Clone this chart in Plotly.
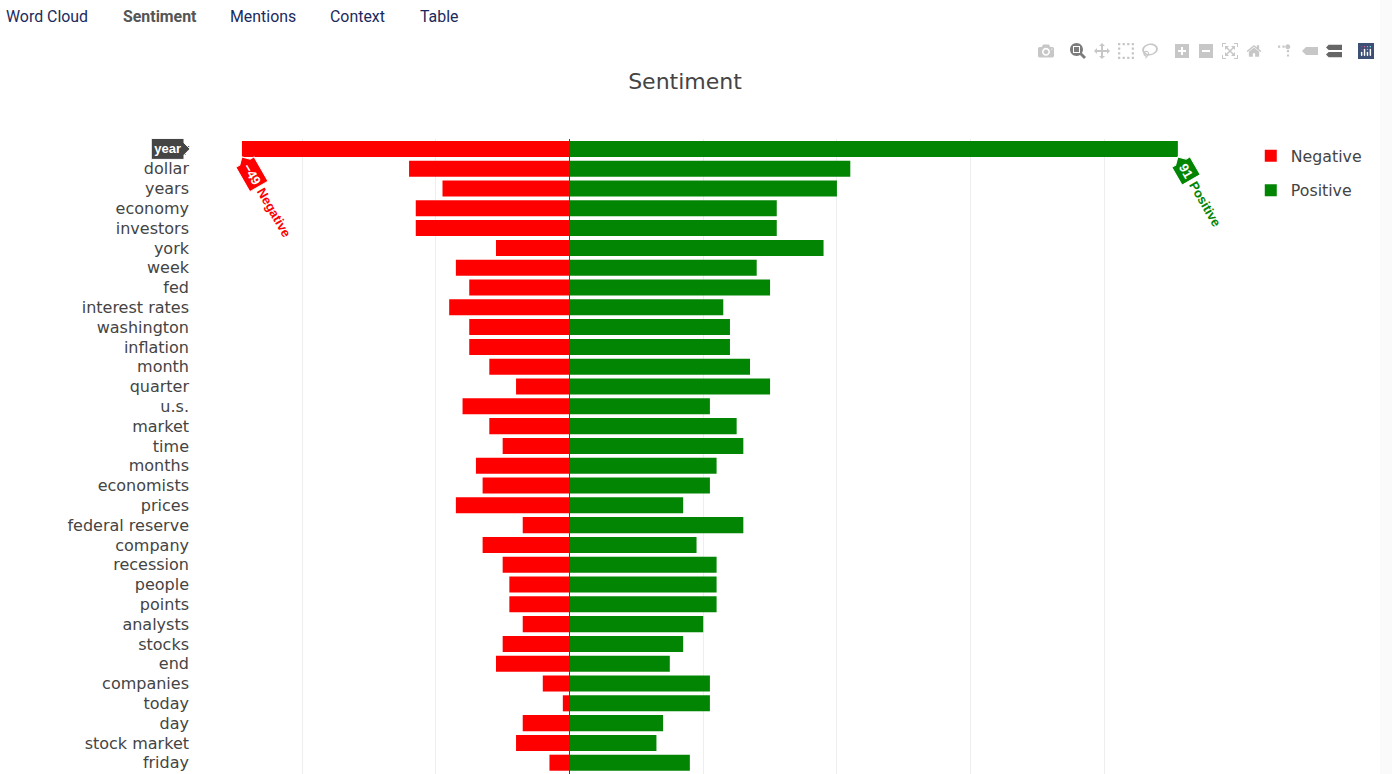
import plotly.graph_objects as go

# terms sorted by total mentions
terms = ["year", "dollar", "years", "economy", "investors", "york", "week", "fed",
         "interest rates", "washington", "inflation", "month", "quarter", "u.s.",
         "market", "time", "months", "economists", "prices", "federal reserve",
         "company", "recession", "people", "points", "analysts", "stocks", "end",
         "companies", "today", "day", "stock market", "friday"]
negative = [-49, -24, -19, -23, -23, -11, -17, -15, -18, -15, -15, -12, -8, -16,
            -12, -10, -14, -13, -17, -7, -13, -10, -9, -9, -7, -10, -11, -4, -1,
            -7, -8, -3]
positive = [91, 42, 40, 31, 31, 38, 28, 30, 23, 24, 24, 27, 30, 21, 25, 26, 22, 21,
            17, 26, 19, 22, 22, 22, 20, 17, 15, 21, 21, 14, 13, 18]

nav_labels = ["Word Cloud", "Sentiment", "Mentions", "Context", "Table"]
nav_left = [4, 121, 228, 328, 418]

W = 1380
H = 774
PLOT_L = 190
PLOT_R = 1225
font_name = "DejaVu Sans"
text_color = "#444"
green = "#028502"

fig = go.Figure()
fig.add_trace(go.Bar(y=terms, x=negative, name="Negative", orientation="h",
                     marker=dict(color="red", line_width=0), legendgroup="neg"))
fig.add_trace(go.Bar(y=terms, x=positive, name="Positive", orientation="h",
                     marker=dict(color=green, line_width=0), legendgroup="pos"))

# tabs above the chart
for label, left in zip(nav_labels, nav_left):
    active = label == "Sentiment"
    fig.add_annotation(text="<b>" + label + "</b>" if active else label,
                       xref="paper", yref="paper", xanchor="left", yanchor="middle",
                       x=(left - PLOT_L) / (PLOT_R - PLOT_L), y=1 + (139 - 16) / 635,
                       showarrow=False, align="left",
                       font=dict(family="Roboto", size=15.9,
                                 color="#555" if active else "#1b2a5e"))

fig.update_layout(
    width=W, height=H,
    margin=dict(l=PLOT_L, r=W - PLOT_R, t=139, b=0, pad=0),
    paper_bgcolor="white", plot_bgcolor="white",
    font=dict(family=font_name, size=16, color=text_color),
    title=dict(text="Sentiment", x=685 / W, xanchor="center", y=1 - 81 / H,
               yanchor="middle", font=dict(size=22)),
    barmode="relative", bargap=0.19,
    hovermode="y",
    hoverlabel=dict(font=dict(family="Liberation Sans", size=13, weight="bold")),
    legend=dict(x=1.0249, y=1, yanchor="top", tracegroupgap=11,
                font=dict(size=15.8)),
    xaxis=dict(range=[-56.77, 98.05], dtick=20, gridcolor="#eee", zeroline=True,
               zerolinecolor="#444", zerolinewidth=1, showticklabels=False),
    yaxis=dict(range=[31.57, -0.5], type="category", tickmode="array",
               tickvals=terms, ticktext=terms, ticklen=0, tickfont=dict(size=16),
               automargin=False, showgrid=False),
)

# page margin off, modebar below the tabs, then hover the top row like the original shot
post = """
document.body.style.margin = '0';
document.body.style.background = '#fafafa';
document.documentElement.style.overflow = 'hidden';
var gd = document.getElementById('{plot_id}');
setTimeout(function () {
    document.querySelector('.modebar-container').style.top = '38px';
    document.querySelectorAll('.modebar-btn--logo rect').forEach(function (r) {
        r.style.fill = '#3d4f75';
        r.setAttribute('rx', 0);
        r.setAttribute('ry', 0);
    });
    var cmp = document.querySelector('[data-title="Compare data on hover"] path');
    if (cmp) { cmp.style.fill = '#666'; }
    Plotly.Fx.hover(gd, {xval: 0, yval: 0}, 'xy');
}, 300);
"""

config = dict(displayModeBar=True, displaylogo=True,
              modeBarButtons=[["toImage"], ["zoom2d", "pan2d", "select2d", "lasso2d"],
                              ["zoomIn2d", "zoomOut2d", "autoScale2d", "resetScale2d"],
                              ["toggleSpikelines", "hoverClosestCartesian", "hoverCompareCartesian"]])

fig.write_html("out.html", config=config, post_script=post)
